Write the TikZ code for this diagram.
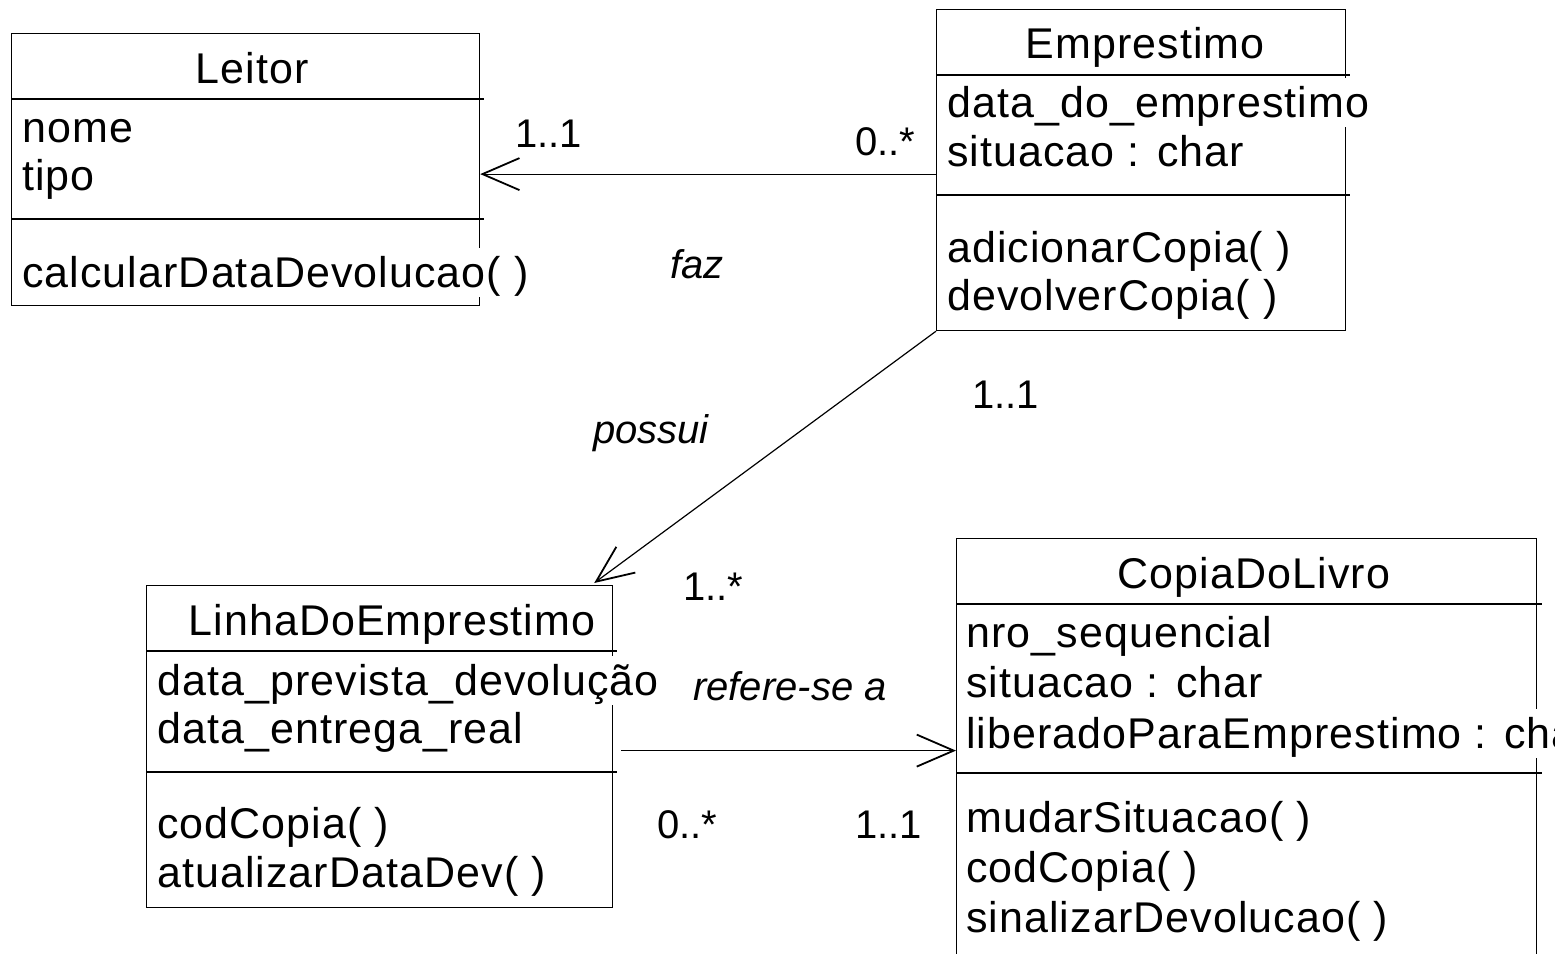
\documentclass[tikz,border=0pt]{standalone}
\usepackage{fontspec}
\setmainfont{Liberation Sans}
\newfontfamily\umlfont[LetterSpace=2.5]{Liberation Sans}
\usetikzlibrary{arrows.meta,positioning,calc}

\tikzset{
  classbox/.style={draw, line width=1.2pt, inner sep=0, anchor=north west},
  sepline/.style={line width=1.2pt},
  member/.style={anchor=base west, inner sep=0, font=\umlfont\fontsize{43}{48}\selectfont},
  classname/.style={anchor=base, inner sep=0, font=\umlfont\fontsize{43}{48}\selectfont},
  overflow/.style={member, fill=white, text height=39pt, text depth=10pt},
  mult/.style={anchor=base west, inner sep=0, font=\fontsize{40}{48}\selectfont},
  rolename/.style={anchor=base west, inner sep=0, font=\itshape\fontsize{40}{48}\selectfont},
  assoc/.style={line width=1.2pt, -{Straight Barb[length=37pt, width=32pt, line width=1.8pt]}}
}

\begin{document}
\begin{tikzpicture}[x=1pt, y=-1pt]

\useasboundingbox (0,0) rectangle (1555,953);
\clip (0,0) rectangle (1555,953);

% Leitor
\node[classbox, minimum width=468pt, minimum height=272pt] (leitor) at (11,33) {};
\draw[sepline] (11,99) -- (484,99);
\draw[sepline] (11,219) -- (484,219);
\node[classname] (leitorName) at (252,83) {Leitor};
\node[member] (leitorNome) at (22,142) {nome};
\node[member] (leitorTipo) at (22,190) {tipo};
\node[overflow] (leitorCalc) at (22,287) {calcularDataDevolucao( )};

% Emprestimo
\node[classbox, minimum width=409pt, minimum height=321pt] (emprestimo) at (936,9) {};
\draw[sepline] (936,75) -- (1350,75);
\draw[sepline] (936,195) -- (1350,195);
\node[classname] (emprestimoName) at (1145,58) {Emprestimo};
\node[overflow] (emprestimoData) at (947,117) {data\_do\_emprestimo};
\node[member] (emprestimoSit) at (947,166) {situacao : char};
\node[member] (emprestimoAdd) at (947,262) {adicionarCopia( )};
\node[member] (emprestimoDev) at (947,310) {devolverCopia( )};

% LinhaDoEmprestimo
\node[classbox, minimum width=466pt, minimum height=322pt] (linha) at (146,585) {};
\draw[sepline] (146,651) -- (617,651);
\draw[sepline] (146,772) -- (617,772);
\node[classname] (linhaName) at (392,635) {LinhaDoEmprestimo};
\node[overflow] (linhaPrev) at (157,695) {data\_prevista\_devolução};
\node[member] (linhaReal) at (157,743) {data\_entrega\_real};
\node[member] (linhaCod) at (157,838) {codCopia( )};
\node[member] (linhaAtu) at (157,887) {atualizarDataDev( )};

% CopiaDoLivro (cut off at the bottom and right)
\node[classbox, minimum width=580pt, minimum height=450pt] (copia) at (956,538) {};
\draw[sepline] (956,604) -- (1542,604);
\draw[sepline] (956,773) -- (1542,773);
\node[classname] (copiaName) at (1254,588) {CopiaDoLivro};
\node[member] (copiaNro) at (966,647) {nro\_sequencial};
\node[member] (copiaSit) at (966,697) {situacao : char};
\node[overflow] (copiaLib) at (966,748) {liberadoParaEmprestimo : char};
\node[member] (copiaMud) at (966,832) {mudarSituacao( )};
\node[member] (copiaCod) at (966,882) {codCopia( )};
\node[member] (copiaSin) at (966,932) {sinalizarDevolucao( )};

% associations
\coordinate (fazStart) at ($(emprestimo.west)+(0,4)$);
\draw[assoc] (fazStart) -- (fazStart -| leitor.east);
\draw[assoc] (emprestimo.south west) -- ($(linha.north east)+(-19,-2)$);
\coordinate (refStart) at ($(linha.east)+(8,4)$);
\draw[assoc] (refStart) -- (refStart -| copia.west);

% role names and multiplicities
\node[rolename] (faz) at (670,278) {faz};
\node[rolename] (possui) at (593,443) {possui};
\node[rolename] (refere) at (693,700) {refere-se a};
\node[mult] (multLeitor) at (515,147) {1..1};
\node[mult] (multFaz) at (855,155) {0..*};
\node[mult] (multEmp) at (972,408) {1..1};
\node[mult] (multLinha) at (683,600) {1..*};
\node[mult] (multRef) at (657,838) {0..*};
\node[mult] (multCopia) at (855,838) {1..1};

\end{tikzpicture}
\end{document}
